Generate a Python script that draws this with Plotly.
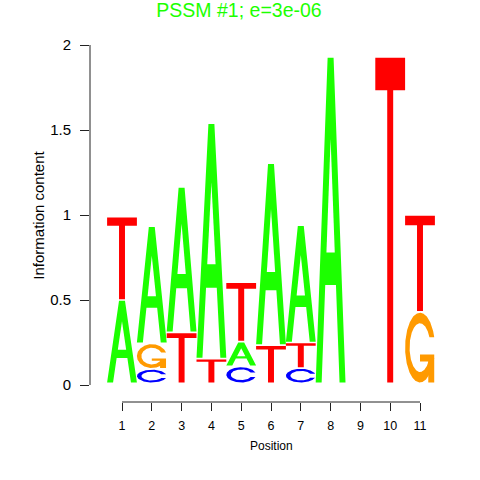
import numpy as np
import plotly.graph_objects as go

# ---------------- data ----------------
positions = list(range(1, 12))
x_tick_labels = [str(p) for p in positions]
letters = ["A", "C", "G", "T"]
A_heights = [0.48, 0.68, 0.845, 1.375, 0.135, 1.06, 0.68, 1.91, 0.0, 0.0, 0.0]
C_heights = [0.0, 0.075, 0.0, 0.0, 0.09, 0.0, 0.08, 0.0, 0.0, 0.0, 0.0]
G_heights = [0.0, 0.14, 0.0, 0.0, 0.0, 0.0, 0.0, 0.0, 0.0, 0.0, 0.41]
T_heights = [0.48, 0.0, 0.29, 0.135, 0.34, 0.215, 0.14, 0.0, 0.0, 1.91, 0.56]
y_ticks = [0, 0.5, 1, 1.5, 2]
y_tick_labels = ["0", "0.5", "1", "1.5", "2"]
title_text = "PSSM #1; e=3e-06"
x_title = "Position"
y_title = "Information content"

# ---------------- styles ----------------
colors = {"A": "#1CFF00", "C": "#0000FF", "G": "#FF9A00", "T": "#FF0000"}
FONT = "Liberation Sans, Arial, sans-serif"
BASE = 0.015     # letters start slightly above zero
GAP = 0.01       # gap between stacked letters
WIDTH = 1.0      # letter width in position units


# ---------------- glyph outlines (unit box) ----------------
def glyph_T():
    x = np.array([0, 10, 10, 6, 6, 4, 4, 0]) * 0.1
    y = np.array([10, 10, 9, 9, 0, 0, 9, 9]) * 0.1
    return [(x, y, True)]


def glyph_A():
    x = np.array([0, 4, 6, 10, 8, 6.8, 3.2, 2, 0]) * 0.1
    y = np.array([0, 10, 10, 0, 0, 3, 3, 0, 0]) * 0.1
    xh = np.array([3.6, 5, 6.4, 3.6]) * 0.1
    yh = np.array([4, 7.5, 4, 4]) * 0.1
    return [(x, y, True), (xh, yh, False)]


def c_outline():
    a1 = np.linspace(0.3 + np.pi / 2, np.pi, 100)
    a2 = np.linspace(np.pi, 1.5 * np.pi, 100)
    xl1 = 0.5 + 0.5 * np.sin(a1)
    yl1 = 0.5 + 0.5 * np.cos(a1)
    xl2 = 0.5 + 0.5 * np.sin(a2)
    yl2 = 0.5 + 0.5 * np.cos(a2)
    xl = np.concatenate([xl1, xl2])
    yl = np.concatenate([yl1, yl2])
    x = np.concatenate([xl, xl[::-1]])
    y = np.concatenate([yl, 1 - yl[::-1]])
    h = yl1.max()
    xi1 = 0.5 + 0.35 * np.sin(a1)
    yi1 = 0.5 + 0.35 * np.cos(a1)
    m = yi1 <= h
    xi1 = xi1[m]
    yi1 = yi1[m].copy()
    yi1[0] = h
    xi2 = 0.5 + 0.35 * np.sin(a2)
    yi2 = 0.5 + 0.35 * np.cos(a2)
    xi = np.concatenate([xi1, xi2])
    yi = np.concatenate([yi1, yi2])
    x1 = np.concatenate([xi, xi[::-1]])
    y1 = np.concatenate([yi, 1 - yi[::-1]])
    x = np.concatenate([x, x1[::-1]])
    y = np.concatenate([y, y1[::-1]])
    return x, y, h, xl1.max()


def glyph_C():
    x, y, _, _ = c_outline()
    return [(x, y, True)]


def glyph_G():
    x, y, h, r1 = c_outline()
    h1 = 0.4
    xa = np.array([r1, 0.5, 0.5, r1 - 0.2, r1 - 0.2, r1, r1])
    ya = np.array([h1, h1, h1 - 0.1, h1 - 0.1, 0, 0, h1])
    return [(x, y, True), (xa, ya, True)]


glyphs = {"A": glyph_A(), "C": glyph_C(), "G": glyph_G(), "T": glyph_T()}
heights = {"A": A_heights, "C": C_heights, "G": G_heights, "T": T_heights}

fig = go.Figure()

for j, pos in enumerate(positions):
    col = [(L, heights[L][j]) for L in letters if heights[L][j] > 0]
    col.sort(key=lambda t: t[1])
    ypos = BASE
    for L, h in col:
        for ux, uy, solid in glyphs[L]:
            fig.add_trace(go.Scatter(
                x=pos - WIDTH / 2 + ux * WIDTH,
                y=ypos + uy * h,
                mode="lines",
                fill="toself",
                fillcolor=colors[L] if solid else "white",
                line=dict(width=0, color=colors[L] if solid else "white"),
                hoverinfo="skip",
                showlegend=False,
            ))
        ypos += h + GAP

# axis lines (R style, spanning only the tick range)
fig.add_shape(type="line", xref="x", yref="paper",
              x0=min(positions), x1=max(positions), y0=0, y1=0,
              line=dict(color="#222", width=1))
fig.add_shape(type="line", xref="paper", yref="y",
              x0=0, x1=0, y0=min(y_ticks), y1=max(y_ticks),
              line=dict(color="#222", width=1))

px_per_x = 29.8
px_per_y = 170.0
x_range = [min(positions) - 32 / px_per_x, max(positions) + 32 / px_per_x]
y_range = [min(y_ticks) - 17 / px_per_y, max(y_ticks) + 14 / px_per_y]

fig.update_layout(
    width=480, height=480,
    margin=dict(l=90, r=28, t=31, b=78),
    paper_bgcolor="white", plot_bgcolor="white",
    font=dict(family=FONT, color="black"),
    title=dict(text=title_text, font=dict(size=19.5, color=colors["A"], family=FONT),
               x=239 / 480, xref="container", xanchor="center",
               y=1 - 10 / 480, yref="container", yanchor="middle"),
    xaxis=dict(range=x_range, tickmode="array", tickvals=positions, ticktext=x_tick_labels,
               ticks="outside", ticklen=8, tickcolor="#222", tickwidth=1,
               showline=False, showgrid=False, zeroline=False,
               tickfont=dict(size=12.5, family=FONT, color="black"),
               ticklabelstandoff=4, fixedrange=True),
    yaxis=dict(range=y_range, tickmode="array", tickvals=y_ticks, ticktext=y_tick_labels,
               ticks="outside", ticklen=9, tickcolor="#222", tickwidth=1,
               showline=False, showgrid=False, zeroline=False,
               tickfont=dict(size=15, family=FONT, color="black"),
               ticklabelstandoff=6, fixedrange=True),
    annotations=[
        dict(text=x_title, xref="paper", yref="paper",
             x=(271 - 90) / 362, y=(402 - 445.7) / 371,
             xanchor="center", yanchor="middle", showarrow=False,
             font=dict(size=12, family=FONT, color="black")),
        dict(text=y_title, xref="paper", yref="paper",
             x=(37.7 - 90) / 362, y=(402 - 215) / 371, textangle=-90,
             xanchor="center", yanchor="middle", showarrow=False,
             font=dict(size=15, family=FONT, color="black")),
    ],
)

# remove the browser's default 8px page margin so the 480x480 figure fills the window
fig.write_html("out.html", config={"displayModeBar": False},
               post_script="document.body.style.margin='0';")
